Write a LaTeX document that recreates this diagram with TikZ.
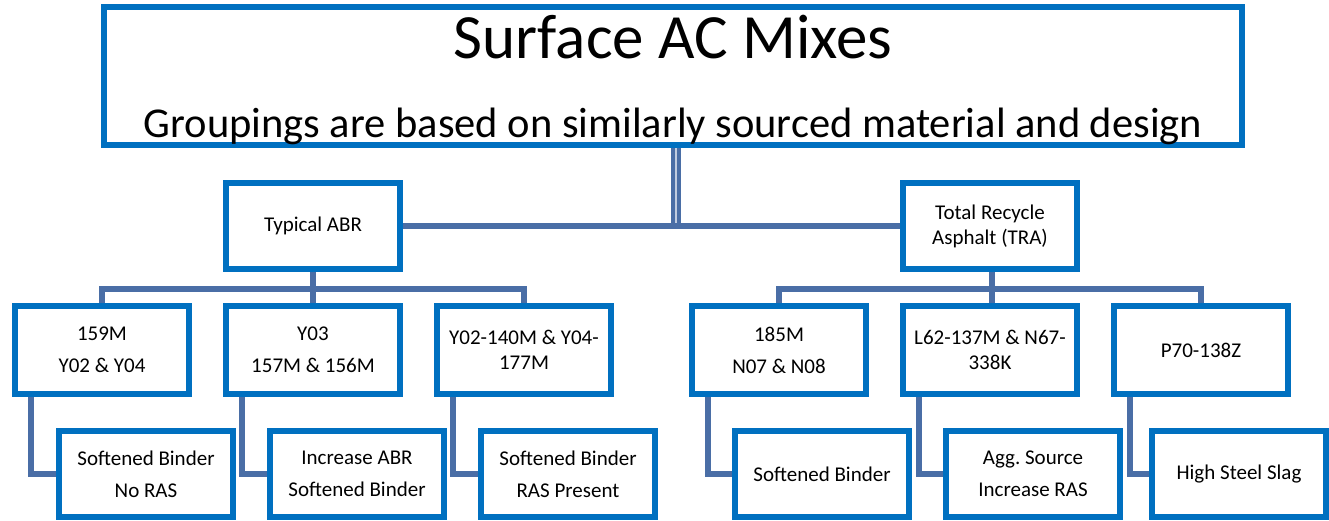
\documentclass[tikz,border=0pt]{standalone}
\usepackage{fontspec}
\setmainfont{Carlito}
\usetikzlibrary{positioning}
\definecolor{boxblue}{HTML}{0070C0}
\definecolor{linkblue}{HTML}{4A6EA6}

\begin{document}
\begin{tikzpicture}[x=0.5pt, y=-0.5pt,
    box/.style={rectangle, draw=boxblue, line width=3pt, minimum width=87pt, minimum height=43pt, inner sep=2pt, align=center, font=\fontsize{10.5}{12.6}\selectfont},
    bigbox/.style={rectangle, draw=boxblue, line width=3pt, minimum width=569pt, minimum height=69pt},
    link/.style={draw=linkblue, line width=2.6pt},
    trunk/.style={draw=linkblue, line width=2pt, double=linkblue!35!white, double distance=0.6pt}]
    \useasboundingbox (0,0) rectangle (1329,520);

    % top box and its two lines
    \node (top) [bigbox] at (673,76) {};
    \node (title) [anchor=base, font=\fontsize{31.5}{38}\selectfont] at (673,58) {Surface AC Mixes};
    \node (subtitle) [anchor=base, font=\fontsize{21.25}{26}\selectfont] at (673,137) {Groupings are based on similarly sourced material and design};

    % groups
    \node (abr) [box] at (313,226) {Typical ABR};
    \node (tra) [box] at (990,226) {Total Recycle\\Asphalt (TRA)};

    % mixes
    \node (m1) [box, minimum height=44pt] at (102,350) {159M\\[3.4pt]Y02 \& Y04};
    \node (m2) [box, minimum height=44pt] at (313,350) {Y03\\[3.4pt]157M \& 156M};
    \node (m3) [box, minimum height=44pt] at (524,350) {Y02-140M \& Y04-\\177M};
    \node (m4) [box, minimum height=44pt] at (779,350) {185M\\[3.4pt]N07 \& N08};
    \node (m5) [box, minimum height=44pt] at (990,350) {L62-137M \& N67-\\338K};
    \node (m6) [box, minimum height=44pt] at (1201,350) {P70-138Z};

    % notes
    \node (s1) [box] at (146,474) {Softened Binder\\[3.4pt]No RAS};
    \node (s2) [box] at (357,474) {Increase ABR\\[3.4pt]Softened Binder};
    \node (s3) [box] at (568,474) {Softened Binder\\[3.4pt]RAS Present};
    \node (s4) [box] at (822,474) {Softened Binder};
    \node (s5) [box] at (1033,474) {Agg.\ Source\\[3.4pt]Increase RAS};
    \node (s6) [box] at (1239,474) {High Steel Slag};

    % connectors
    \coordinate (hub) at (676,228);
    \coordinate (abrbus) at (313,289);
    \coordinate (trabus) at (992,289);
    \draw[trunk] (top.south -| hub) -- (hub);
    \draw[link] (abr.east) -- (tra.west);

    \draw[link] (abr.south) -- (abrbus);
    \draw[link] (m1.north) |- (abrbus) -| (m3.north);
    \draw[link] (abrbus) -- (m2.north);
    \draw[link] (tra.south -| trabus) -- (trabus);
    \draw[link] (m4.north) |- (trabus) -| (m6.north);
    \draw[link] (trabus) -- (m5.north -| trabus);

    \foreach \i in {1,...,6}
        \draw[link] ([xshift=9.5pt]m\i.south west) |- (s\i.west);
\end{tikzpicture}
\end{document}
